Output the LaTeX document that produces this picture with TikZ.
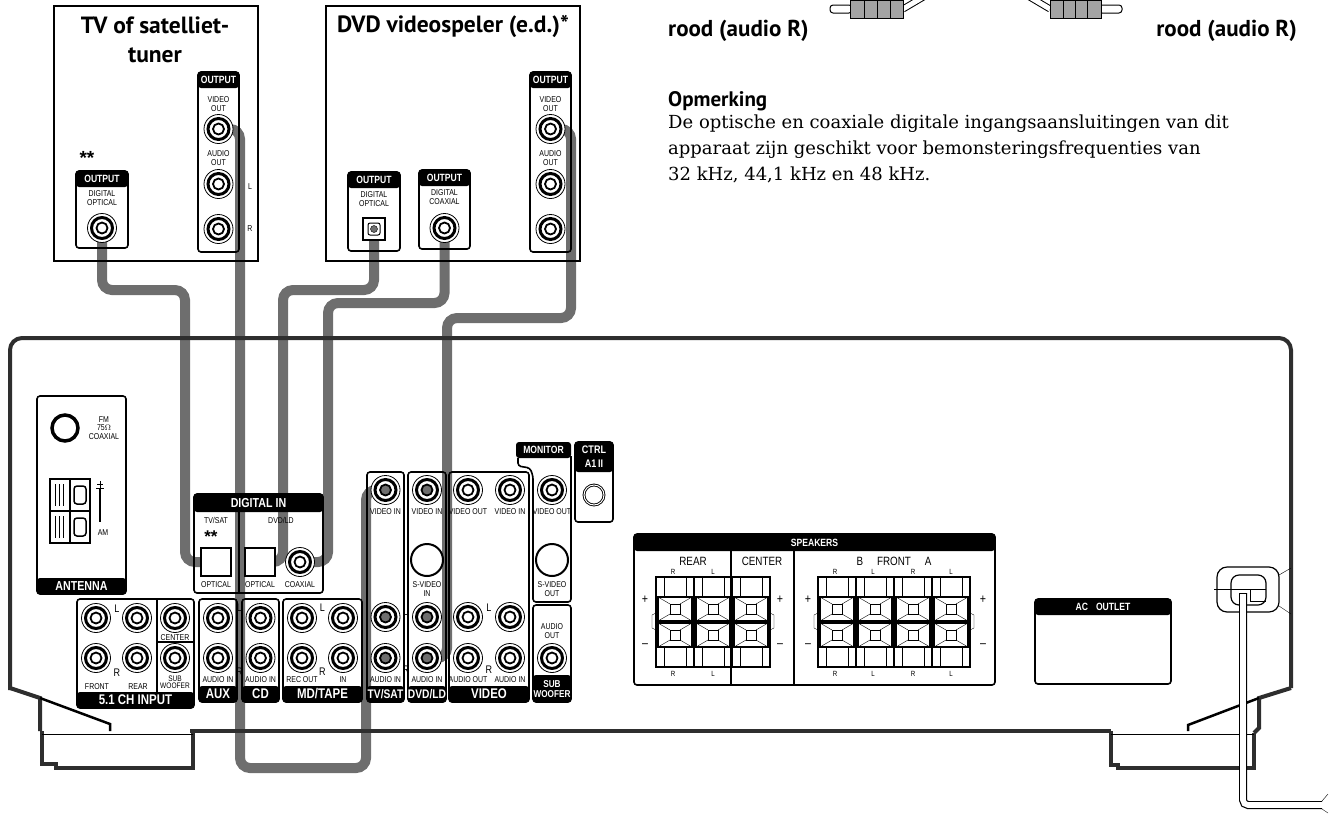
\documentclass[tikz,border=0pt]{standalone}
\usepackage{fontspec}
\newfontfamily\condfont[FakeStretch=0.82]{Liberation Sans}
\newfontfamily\starfont{Liberation Sans}
\newfontfamily\headfont{PT Sans}
\newfontfamily\notefont{DejaVu Serif}
\pgfdeclarelayer{back}
\pgfsetlayers{back,main}
\definecolor{cablegray}{HTML}{6E6E6E}
\definecolor{plugfill}{HTML}{A3A3A3}
\definecolor{bodyline}{HTML}{2E2E2E}

\begin{document}
\begin{tikzpicture}[x=1pt, y=-1pt,
    cable/.style={draw=cablegray, line width=10pt, rounded corners=10pt},
    devbox/.style={draw, line width=1.4pt},
    panel/.style={draw, line width=1.6pt, rounded corners=3pt},
    band/.style={fill=black, rounded corners=3pt},
    body/.style={draw=bodyline, line width=4pt},
    hd/.style={font=\condfont\bfseries\fontsize{10.5}{10}\selectfont, text=white, inner sep=0pt, align=center},
    big/.style={font=\condfont\bfseries\fontsize{14}{14}\selectfont, text=white, inner sep=0pt},
    tag/.style={font=\condfont\fontsize{8.5}{8.5}\selectfont, inner sep=0pt, align=center},
    lr/.style={font=\condfont\fontsize{11}{11}\selectfont, inner sep=0pt},
    stars/.style={font=\starfont\bfseries\fontsize{19}{19}\selectfont, inner sep=0pt},
    title/.style={font=\headfont\bfseries\fontsize{23.5}{29}\selectfont, inner sep=0pt, align=center},
    note/.style={font=\headfont\bfseries\fontsize{23}{23}\selectfont, inner sep=0pt},
    jack/.style={circle, draw, line width=0.8pt, minimum size=29pt, inner sep=0pt, fill=white,
      path picture={
        \draw[line width=3pt] (path picture bounding box.center) circle (10.5pt);
        \draw[line width=1.8pt, fill=#1] (path picture bounding box.center) circle (5.5pt);}},
    jack/.default=white,
    optic/.style={draw, line width=2.2pt, minimum width=30pt, minimum height=28pt, inner sep=0pt, fill=white},
    svideo/.style={circle, draw, line width=2pt, minimum size=32pt, inner sep=0pt, fill=white}
  ]
  \useasboundingbox (0,0) rectangle (1331,815);

  % TV of satelliettuner
  \draw[devbox] (54,6) rectangle (258,261);
  \node[title] (tvname) at (155,40) {TV of satelliet-\\tuner};
  \draw[panel] (198,72) rectangle (239,252);
  \fill[band] (198,72) rectangle (239,88);
  \node[hd] (tvouthd) at (218.5,80) {OUTPUT};
  \node[tag] (tvvidtag) at (218.5,104) {VIDEO\\OUT};
  \node[jack] (tvvid) at (218.5,129) {};
  \node[tag] (tvaudtag) at (218.5,158) {AUDIO\\OUT};
  \node[jack] (tvL) at (218.5,184) {};
  \node[jack] (tvR) at (218.5,229) {};
  \node[tag] (tvLtag) at (250,187) {L};
  \node[tag] (tvRtag) at (250,229) {R};
  \node[stars] (tvstars) at (87,158) {**};
  \draw[panel] (76,171) rectangle (128,248);
  \fill[band] (76,171) rectangle (128,187);
  \node[hd] (tvopthd) at (102,179) {OUTPUT};
  \node[tag] (tvopttag) at (102,198) {DIGITAL\\OPTICAL};
  \node[jack] (tvopt) at (102,228) {};

  % DVD videospeler
  \draw[devbox] (326,6) rectangle (580,261);
  \node[title] (dvdname) at (453,26) {DVD videospeler (e.d.)*};
  \draw[panel] (348,172) rectangle (400,251);
  \fill[band] (348,172) rectangle (400,188);
  \node[hd] (dvdopthd) at (374,180) {OUTPUT};
  \node[tag] (dvdopttag) at (374,199) {DIGITAL\\OPTICAL};
  \node[optic, minimum width=22pt, minimum height=22pt, line width=1.3pt] (dvdopt) at (374,229) {};
  \draw[line width=1pt, rounded corners=2pt] (dvdopt.center) ++(-6,-6) rectangle ++(12,12);
  \draw[fill=cablegray] (dvdopt.center) circle (3.5pt);
  \draw[panel] (419,170) rectangle (470,249);
  \fill[band] (419,170) rectangle (470,186);
  \node[hd] (dvdcoaxhd) at (444.5,178) {OUTPUT};
  \node[tag] (dvdcoaxtag) at (444.5,197) {DIGITAL\\COAXIAL};
  \node[jack] (dvdcoax) at (444.5,228) {};
  \draw[panel] (530,72) rectangle (571,252);
  \fill[band] (530,72) rectangle (571,88);
  \node[hd] (dvdouthd) at (550.5,80) {OUTPUT};
  \node[tag] (dvdvidtag) at (550.5,104) {VIDEO\\OUT};
  \node[jack] (dvdvid) at (550.5,129) {};
  \node[tag] (dvdaudtag) at (550.5,158) {AUDIO\\OUT};
  \node[jack] (dvdL) at (550.5,184) {};
  \node[jack] (dvdR) at (550.5,229) {};

  % cable plugs and note
  \draw[line width=7pt] (903,9) -- (925,-4);
  \draw[line width=5pt, white] (903,9) -- (925,-4);
  \draw[line width=1pt, rounded corners=3pt, fill=white] (830,5) rectangle (852,13);
  \draw[line width=1pt, fill=plugfill] (850,0) rectangle (903,18);
  \draw (864,0) -- (864,18) (877,0) -- (877,18) (890,0) -- (890,18);
  \draw[line width=7pt] (1050,9) -- (1028,-4);
  \draw[line width=5pt, white] (1050,9) -- (1028,-4);
  \draw[line width=1pt, rounded corners=3pt, fill=white] (1099,5) rectangle (1122,13);
  \draw[line width=1pt, fill=plugfill] (1050,0) rectangle (1101,18);
  \draw (1063,0) -- (1063,18) (1075,0) -- (1075,18) (1087,0) -- (1087,18);
  \node[note, anchor=base west] (roodL) at (668,36) {rood (audio R)};
  \node[note, anchor=base east] (roodR) at (1297,36) {rood (audio R)};
  \node[note, font=\headfont\bfseries\fontsize{21}{21}\selectfont, anchor=base west] (opm) at (668,106) {Opmerking};
  \node[font=\notefont\fontsize{18}{26}\selectfont, anchor=north west, align=left, inner sep=0pt] (note) at (668,115)
    {De optische en coaxiale digitale ingangsaansluitingen van dit\\apparaat zijn geschikt voor bemonsteringsfrequenties van\\32 kHz, 44,1 kHz en 48 kHz.};

  % receiver body
  \draw[body, rounded corners=12pt] (10,690) -- (10,338) -- (1291,338) -- (1291,688);
  \draw[body] (10,688) -- (40,698) -- (40,731);
  \draw[line width=2.5pt] (40,698) -- (110,724) -- (110,731);
  \draw[body] (42,731) -- (42,764) -- (56,764) -- (56,768) -- (193,768) -- (193,731);
  \draw[body] (190,731) -- (1111,731);
  \draw[line width=0.8pt] (42,734) -- (193,734);
  \draw[body] (1291,688) -- (1259,698) -- (1259,728) -- (1254,733);
  \draw[line width=2.5pt] (1259,698) -- (1188,725) -- (1188,731);
  \draw[body] (1111,731) -- (1111,765) -- (1118,765) -- (1118,768) -- (1254,768) -- (1254,733);
  \draw[line width=0.8pt] (1111,734) -- (1254,734);

  % ANTENNA
  \draw[panel] (37,396) rectangle (126,594);
  \fill[band] (37,578) rectangle (126,594);
  \node[hd, font=\condfont\bfseries\fontsize{13}{12}\selectfont] (antlbl) at (81.5,586) {ANTENNA};
  \node[circle, draw, line width=3.5pt, minimum size=26pt, inner sep=0pt] (fm) at (65,428) {};
  \node[tag] (fmtag) at (104,428) {FM\\75$\Omega$\\COAXIAL};
  \draw[line width=2.4pt] (50,479) rectangle (90,543);
  \draw[line width=1.6pt] (50,511) -- (90,511) (70,479) -- (70,543);
  \foreach \py in {479,511} {
    \draw (55,\py+5) -- (55,\py+27) (59,\py+5) -- (59,\py+27) (63,\py+5) -- (63,\py+27);
    \draw[line width=1.5pt, rounded corners=3pt] (74,\py+7) rectangle (86,\py+25);
  }
  \draw[line width=1.3pt] (100,488) -- (100,522);
  \draw (96,488) -- (104,488) (100,481) -- (100,488) (97,484) -- (103,484);
  \node[tag] (amtag) at (103,533) {AM};

  % DIGITAL IN
  \draw[panel] (194,494) rectangle (323,593);
  \fill[band] (194,494) rectangle (323,512);
  \node[hd, font=\condfont\bfseries\fontsize{13}{12}\selectfont] (dinlbl) at (258.5,503) {DIGITAL IN};
  \draw[line width=1.2pt] (239,512) -- (239,593);
  \node[tag] (dintv) at (216,520) {TV/SAT};
  \node[tag] (dindvd) at (281,520) {DVD/LD};
  \node[stars, font=\starfont\bfseries\fontsize{17}{17}\selectfont] (dinstars) at (211,537) {**};
  \node[optic] (dtv) at (216,562) {};
  \node[optic] (ddvd) at (260,562) {};
  \node[jack] (dcoax) at (300,562) {};
  \node[tag] (dtvtag) at (216,585) {OPTICAL};
  \node[tag] (ddvdtag) at (260,585) {OPTICAL};
  \node[tag] (dcoaxtag) at (300,585) {COAXIAL};

  % 5.1 CH INPUT
  \draw[panel] (77,599) rectangle (194,708);
  \fill[band] (77,692) rectangle (194,708);
  \node[big] (chlbl) at (135.5,700) {5.1 CH INPUT};
  \draw[line width=1.2pt] (157,599) -- (157,692) (157,642) -- (194,642);
  \node[jack] (frontL) at (96,618) {};
  \node[jack] (rearL) at (137,618) {};
  \node[jack] (center) at (175,618) {};
  \node[jack] (frontR) at (96,658) {};
  \node[jack] (rearR) at (137,658) {};
  \node[jack] (subw) at (175,658) {};
  \node[lr] (chL) at (117,609) {L};
  \node[lr] (chR) at (117,673) {R};
  \node[tag] (centertag) at (175,638) {CENTER};
  \node[tag, font=\condfont\fontsize{8}{7.5}\selectfont] (subtag) at (175,682) {SUB\\WOOFER};
  \node[tag] (fronttag) at (97,687) {FRONT};
  \node[tag] (reartag) at (138,687) {REAR};

  % AUX, CD, MD/TAPE
  \draw[panel] (199,599) rectangle (237,702);
  \fill[band] (199,686) rectangle (237,702);
  \node[big] (auxlbl) at (218,694) {AUX};
  \node[jack] (auxL) at (218,618) {};
  \node[jack] (auxR) at (218,658) {};
  \node[tag] (auxtag) at (218,680) {AUDIO IN};
  \draw[panel] (242,599) rectangle (279,702);
  \fill[band] (242,686) rectangle (279,702);
  \node[big] (cdlbl) at (260.5,694) {CD};
  \node[jack] (cdL) at (260.5,618) {};
  \node[jack] (cdR) at (260.5,658) {};
  \node[tag] (cdtag) at (260.5,680) {AUDIO IN};
  \node[lr] (cdLtag) at (239.5,608) {L};
  \node[lr] (cdRtag) at (239.5,672) {R};
  \draw[panel] (283,599) rectangle (362,702);
  \fill[band] (283,686) rectangle (362,702);
  \node[big] (mdlbl) at (322.5,694) {MD/TAPE};
  \node[jack] (mdoL) at (302,618) {};
  \node[jack] (mdiL) at (343,618) {};
  \node[jack] (mdoR) at (302,658) {};
  \node[jack] (mdiR) at (343,658) {};
  \node[lr] (mdL) at (322.5,608) {L};
  \node[lr] (mdR) at (322.5,672) {R};
  \node[tag] (mdotag) at (302,680) {REC OUT};
  \node[tag] (mditag) at (343,680) {IN};

  % TV/SAT, DVD/LD, VIDEO
  \draw[panel] (367,472) rectangle (404,702);
  \fill[band] (367,686) rectangle (404,702);
  \node[big, font=\condfont\bfseries\fontsize{12.5}{12}\selectfont] (tslbl) at (385.5,694) {TV/SAT};
  \node[jack=cablegray] (tsV) at (385.5,490) {};
  \node[jack=cablegray] (tsL) at (385.5,617) {};
  \node[jack=cablegray] (tsR) at (385.5,658) {};
  \node[tag] (tsVtag) at (385.5,512) {VIDEO IN};
  \node[tag] (tsAtag) at (385.5,680) {AUDIO IN};
  \draw[panel] (408,472) rectangle (446,702);
  \fill[band] (408,686) rectangle (446,702);
  \node[big, font=\condfont\bfseries\fontsize{12.5}{12}\selectfont] (dllbl) at (427,694) {DVD/LD};
  \node[jack=cablegray] (dlV) at (427,490) {};
  \node[svideo] (dlsv) at (427,560) {};
  \node[jack=cablegray] (dlL) at (427,617) {};
  \node[jack=cablegray] (dlR) at (427,658) {};
  \node[tag] (dlVtag) at (427,512) {VIDEO IN};
  \node[tag] (dlsvtag) at (427,589) {S-VIDEO\\IN};
  \node[tag] (dlAtag) at (427,680) {AUDIO IN};
  \node[lr] (avL) at (406,612) {L};
  \node[lr] (avR) at (406,670) {R};
  \draw[panel] (449,472) rectangle (529,702);
  \fill[band] (449,686) rectangle (529,702);
  \node[big] (vidlbl) at (489,694) {VIDEO};
  \node[jack] (vOV) at (468,490) {};
  \node[jack] (vIV) at (510,490) {};
  \node[jack] (vOL) at (468,617) {};
  \node[jack] (vIL) at (510,617) {};
  \node[jack] (vOR) at (468,658) {};
  \node[jack] (vIR) at (510,658) {};
  \node[tag] (vOVtag) at (468,512) {VIDEO OUT};
  \node[tag] (vIVtag) at (510,512) {VIDEO IN};
  \node[tag] (vOAtag) at (468,680) {AUDIO OUT};
  \node[tag] (vIAtag) at (510,680) {AUDIO IN};
  \node[lr] (vL) at (489,608) {L};
  \node[lr] (vR) at (489,670) {R};

  % MONITOR, SUB WOOFER, CTRL
  \fill[band] (516,442) rectangle (571,458);
  \node[hd] (monlbl) at (543.5,450) {MONITOR};
  \draw[panel] (518,458) -- (518,466) -- (530,468) -- (533,476) -- (533,602) -- (571,602) -- (571,456);
  \node[jack] (monV) at (552,490) {};
  \node[tag] (monVtag) at (552,512) {VIDEO OUT};
  \node[svideo] (monsv) at (552,560) {};
  \node[tag] (monsvtag) at (552,589) {S-VIDEO\\OUT};
  \draw[panel] (533,605) rectangle (571,702);
  \fill[band] (533,675) rectangle (571,702);
  \node[hd, font=\condfont\bfseries\fontsize{10}{10.5}\selectfont] (swlbl) at (552,689) {SUB\\WOOFER};
  \node[tag] (swtag) at (552,631) {AUDIO\\OUT};
  \node[jack] (swout) at (552,658) {};
  \draw[panel] (575,442) rectangle (613,522);
  \fill[band] (575,442) rectangle (613,472);
  \node[hd, font=\condfont\bfseries\fontsize{11}{14}\selectfont] (ctrllbl) at (594,457) {CTRL\\A1\,II};
  \node[circle, draw, double, double distance=1pt, line width=0.9pt, minimum size=20pt, inner sep=0pt] (ctrl) at (594,495) {};

  % SPEAKERS
  \draw[panel] (634,534) rectangle (995,685);
  \fill[band] (634,534) rectangle (995,551);
  \node[hd] (spklbl) at (814.5,543) {SPEAKERS};
  \draw[line width=1.4pt] (731,551) -- (731,685) (794,551) -- (794,685);
  \node[lr, font=\condfont\fontsize{12}{12}\selectfont] (reartag2) at (693,561) {REAR};
  \node[lr, font=\condfont\fontsize{12}{12}\selectfont] (centag2) at (762,561) {CENTER};
  \node[lr, font=\condfont\fontsize{12}{12}\selectfont] (fronttag2) at (894,561) {B\hspace{14pt}FRONT\hspace{14pt}A};
  \foreach \cx/\t in {673/R,713/L,835/R,873/L,913/R,951/L} {
    \node[tag, font=\condfont\fontsize{7.5}{7}\selectfont] at (\cx,572) {\t};
    \node[tag, font=\condfont\fontsize{7.5}{7}\selectfont] at (\cx,674) {\t};
  }
  \foreach \cx in {656,694,732,818,856,894,932} {
    \draw[line width=1.2pt] (\cx,577) rectangle (\cx+38,667);
    \draw (\cx+8,577) -- (\cx+8,597) (\cx+30,577) -- (\cx+30,597)
          (\cx+8,647) -- (\cx+8,667) (\cx+30,647) -- (\cx+30,667);
    \foreach \cy in {597,623} {
      \draw[line width=1.6pt, fill=white] (\cx+2,\cy) rectangle (\cx+36,\cy+24);
      \draw (\cx+14,\cy+7) rectangle (\cx+24,\cy+17);
      \draw (\cx+2,\cy) -- (\cx+14,\cy+7) (\cx+36,\cy) -- (\cx+24,\cy+7)
            (\cx+2,\cy+24) -- (\cx+14,\cy+17) (\cx+36,\cy+24) -- (\cx+24,\cy+17);
    }
  }
  \foreach \bx/\d in {656/-1,770/1,818/-1,970/1} {
    \draw (\bx,613) -- (\bx+4*\d,615) -- (\bx+4*\d,628) -- (\bx,630);
  }
  \foreach \sx in {645,780,808,983} {
    \node[lr, font=\condfont\fontsize{13}{13}\selectfont] at (\sx,600) {+};
    \node[lr, font=\condfont\fontsize{13}{13}\selectfont] at (\sx,646) {–};
  }

  % AC OUTLET
  \draw[panel] (1035,599) rectangle (1171,684);
  \fill[band] (1035,599) rectangle (1171,615);
  \node[hd] (aclbl) at (1103,607) {AC\hspace{8pt}OUTLET};

  % power cord
  \draw[line width=1.2pt, rounded corners=10pt] (1217,567) rectangle (1279,612);
  \draw[line width=1.2pt, rounded corners=8pt] (1231,575) rectangle (1266,605);
  \draw (1279,575) -- (1291,568) (1279,606) -- (1291,614);
  \draw (1214,589) -- (1266,589) (1250,589) -- (1250,601) -- (1266,601);
  \draw[line width=8pt, rounded corners=5pt] (1243,593) -- (1243,805) -- (1322,805);
  \draw[line width=5.6pt, white, rounded corners=5pt] (1243,594) -- (1243,805) -- (1323,805);
  \draw (1322,801) -- (1328,794) (1322,809) -- (1328,813);

  % cables
  \begin{pgfonlayer}{back}
    \draw[cable] (tvopt.center) -- (102,290) -- (185,290) -- (185,562) -- (dtv.center);
    \draw[cable] (tvvid.center) -- (240,129) -- (240,768) -- (366,768) -- (366,490) -- (tsV.center);
    \draw[cable] (dvdopt.center) -- (374,290) -- (283,290) -- (283,562) -- (ddvd.center);
    \draw[cable] (dvdcoax.center) -- (444.5,303) -- (328,303) -- (328,562) -- (dcoax.center);
    \draw[cable] (dvdvid.center) -- (571,129) -- (571,318) -- (447,318) -- (447,658) -- (dlR.center);
  \end{pgfonlayer}
\end{tikzpicture}
\end{document}
